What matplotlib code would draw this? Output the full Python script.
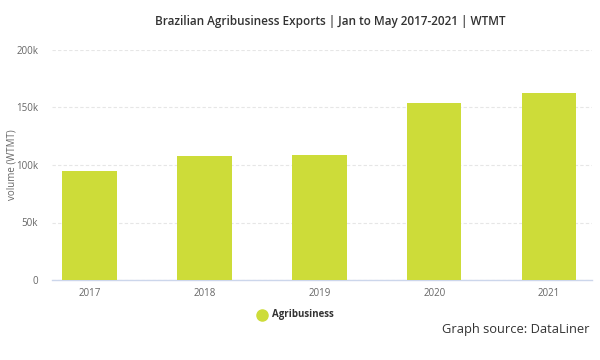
import matplotlib.pyplot as plt
from matplotlib.lines import Line2D
from matplotlib.ticker import FuncFormatter

years = ["2017", "2018", "2019", "2020", "2021"]
volume = [95200, 108000, 108300, 154300, 162800]
y_ticks = [0, 50000, 100000, 150000, 200000]

BAR = "#cddc39"
plt.rcParams["font.family"] = ["Open Sans", "DejaVu Sans"]

fig = plt.figure(figsize=(6, 3.6), dpi=100)
ax = fig.add_axes([52 / 600, 80 / 360, 540 / 600, 230 / 360])

x = list(range(len(years)))
ax.bar(x, volume, width=0.474, color=BAR, zorder=3)

ax.set_xlim(-0.326, 4.373)
ax.set_ylim(0, 200000)
ax.set_yticks(y_ticks)
ax.yaxis.set_major_formatter(FuncFormatter(lambda v, p: "0" if v == 0 else f"{int(v/1000)}k"))
ax.set_xticks(x)
ax.set_xticklabels(years)

ax.grid(axis="y", color="#e6e6e6", linestyle=(0, (3, 2)), linewidth=0.8, zorder=0)
for s in ["top", "right", "left"]:
    ax.spines[s].set_visible(False)
ax.spines["bottom"].set_color("#ccd6eb")
ax.spines["bottom"].set_linewidth(1)
ax.tick_params(axis="y", length=0, pad=10, labelsize=7, labelcolor="#666666")
ax.tick_params(axis="x", length=0, pad=6, labelsize=7, labelcolor="#666666")

# y axis title placed by hand so it stays inside the figure
fig.text(12 / 600, 1 - 165 / 360, "volume (WTMT)", rotation=90, ha="center", va="center",
         fontsize=7, color="#666666")

fig.text(330 / 600, 1 - 22 / 360, "Brazilian Agribusiness Exports | Jan to May 2017-2021 | WTMT",
         ha="center", va="center", fontsize=8.5, color="#333333", fontweight="semibold")

# legend marker + label
fig.add_artist(Line2D([262 / 600], [1 - 315 / 360], marker="o", markersize=8,
                      color=BAR, linestyle="none", transform=fig.transFigure))
fig.text(272 / 600, 1 - 315 / 360, "Agribusiness", ha="left", va="center",
         fontsize=7, color="#333333", fontweight="bold")
fig.text(590 / 600, 1 - 330 / 360, "Graph source: DataLiner", ha="right", va="center",
         fontsize=9.3, color="#333333")

fig.savefig("out.png", dpi=100)
